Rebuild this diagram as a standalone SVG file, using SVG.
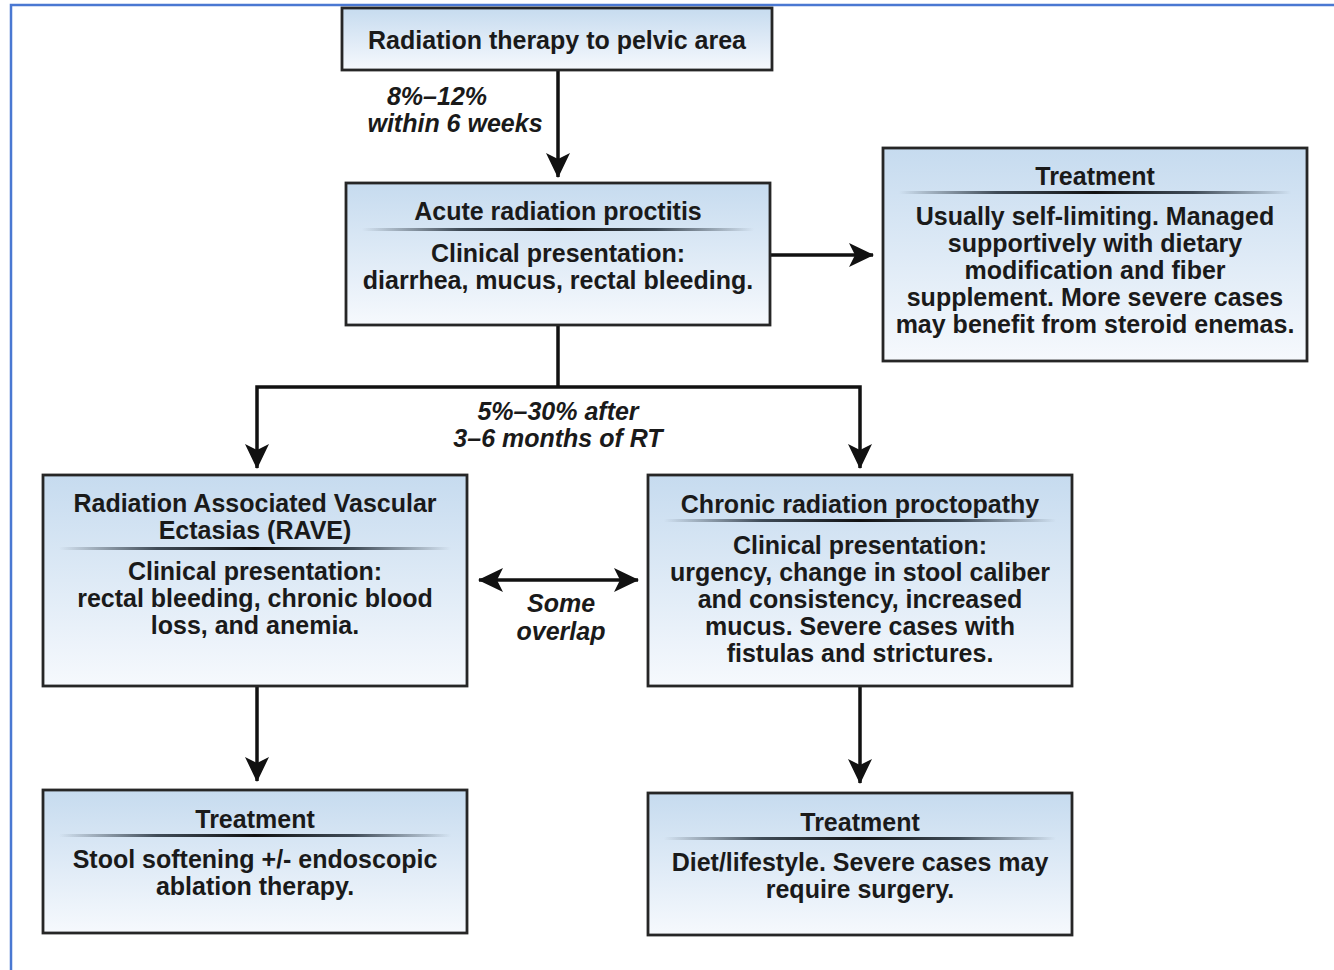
<svg xmlns="http://www.w3.org/2000/svg" width="1334" height="970" viewBox="0 0 1334 970">
<defs>
<linearGradient id="boxfill" x1="0" y1="0" x2="0" y2="1">
<stop offset="0" stop-color="#c6dbef"/>
<stop offset="1" stop-color="#f6f9fd"/>
</linearGradient>
<linearGradient id="sep" x1="0" y1="0" x2="1" y2="0">
<stop offset="0" stop-color="#1a2530" stop-opacity="0"/>
<stop offset="0.25" stop-color="#1a2530" stop-opacity="0.8"/>
<stop offset="0.5" stop-color="#111" stop-opacity="1"/>
<stop offset="0.75" stop-color="#1a2530" stop-opacity="0.8"/>
<stop offset="1" stop-color="#1a2530" stop-opacity="0"/>
</linearGradient>
<marker id="ahl" markerWidth="26" markerHeight="26" refX="24" refY="13" orient="auto-start-reverse" markerUnits="userSpaceOnUse" viewBox="0 0 26 26">
<path d="M0,1 L25,13 L0,25 L6,13 Z" fill="#111"/>
</marker>
</defs>
<style>
.box{fill:url(#boxfill);stroke:#262626;stroke-width:2.8}
.t{font-family:"Liberation Sans",Arial,sans-serif;font-weight:bold;font-size:25px;fill:#1a1a1a;text-anchor:middle}
.lbl{font-family:"Liberation Sans",Arial,sans-serif;font-weight:bold;font-style:italic;font-size:25px;fill:#1a1a1a;text-anchor:middle}
.c{fill:none;stroke:#111;stroke-width:3.5}
.frame{fill:none;stroke:#4a78d2;stroke-width:2.5}
</style>
<rect width="1334" height="970" fill="#ffffff"/>
<path class="frame" d="M11,970 L11,5 L1334,5"/>

<g id="connectors">
<line class="c" x1="558" y1="70" x2="558" y2="177" marker-end="url(#ahl)"/>
<line class="c" x1="770" y1="255" x2="873" y2="255" marker-end="url(#ahl)"/>
<polyline class="c" points="558,325 558,387"/>
<polyline class="c" points="257,468 257,387 860,387 860,468" marker-start="url(#ahl)" marker-end="url(#ahl)"/>
<line class="c" x1="479" y1="580" x2="638" y2="580" marker-start="url(#ahl)" marker-end="url(#ahl)"/>
<line class="c" x1="257" y1="686" x2="257" y2="781" marker-end="url(#ahl)"/>
<line class="c" x1="860" y1="686" x2="860" y2="783" marker-end="url(#ahl)"/>
<text class="lbl" x="437" y="105">8%–12%</text>
<text class="lbl" x="455" y="132">within 6 weeks</text>
<text class="lbl" x="558" y="420">5%–30% after</text>
<text class="lbl" x="558" y="447">3–6 months of RT</text>
<text class="lbl" x="561" y="612">Some</text>
<text class="lbl" x="561" y="640">overlap</text>
</g>

<g id="n-radiation">
<rect class="box" x="342" y="8" width="430" height="62"/>
<text class="t" x="557" y="49">Radiation therapy to pelvic area</text>
</g>

<g id="n-acute">
<rect class="box" x="346" y="183" width="424" height="142"/>
<text class="t" x="558" y="220">Acute radiation proctitis</text>
<rect x="362" y="228" width="392" height="3" fill="url(#sep)"/>
<text class="t" x="558" y="262">Clinical presentation:</text>
<text class="t" x="558" y="289">diarrhea, mucus, rectal bleeding.</text>
</g>

<g id="n-treat-acute">
<rect class="box" x="883" y="148" width="424" height="213"/>
<text class="t" x="1095" y="185">Treatment</text>
<rect x="899" y="191" width="392" height="3" fill="url(#sep)"/>
<text class="t" x="1095" y="225">Usually self-limiting. Managed</text>
<text class="t" x="1095" y="252">supportively with dietary</text>
<text class="t" x="1095" y="279">modification and fiber</text>
<text class="t" x="1095" y="306">supplement. More severe cases</text>
<text class="t" x="1095" y="333">may benefit from steroid enemas.</text>
</g>

<g id="n-rave">
<rect class="box" x="43" y="475" width="424" height="211"/>
<text class="t" x="255" y="512">Radiation Associated Vascular</text>
<text class="t" x="255" y="539">Ectasias (RAVE)</text>
<rect x="59" y="547" width="392" height="3" fill="url(#sep)"/>
<text class="t" x="255" y="580">Clinical presentation:</text>
<text class="t" x="255" y="607">rectal bleeding, chronic blood</text>
<text class="t" x="255" y="634">loss, and anemia.</text>
</g>

<g id="n-chronic">
<rect class="box" x="648" y="475" width="424" height="211"/>
<text class="t" x="860" y="513">Chronic radiation proctopathy</text>
<rect x="664" y="519" width="392" height="3" fill="url(#sep)"/>
<text class="t" x="860" y="554">Clinical presentation:</text>
<text class="t" x="860" y="581">urgency, change in stool caliber</text>
<text class="t" x="860" y="608">and consistency, increased</text>
<text class="t" x="860" y="635">mucus. Severe cases with</text>
<text class="t" x="860" y="662">fistulas and strictures.</text>
</g>

<g id="n-treat-rave">
<rect class="box" x="43" y="790" width="424" height="143"/>
<text class="t" x="255" y="828">Treatment</text>
<rect x="59" y="834" width="392" height="3" fill="url(#sep)"/>
<text class="t" x="255" y="868">Stool softening +/- endoscopic</text>
<text class="t" x="255" y="895">ablation therapy.</text>
</g>

<g id="n-treat-chronic">
<rect class="box" x="648" y="793" width="424" height="142"/>
<text class="t" x="860" y="831">Treatment</text>
<rect x="664" y="837" width="392" height="3" fill="url(#sep)"/>
<text class="t" x="860" y="871">Diet/lifestyle. Severe cases may</text>
<text class="t" x="860" y="898">require surgery.</text>
</g>
</svg>
